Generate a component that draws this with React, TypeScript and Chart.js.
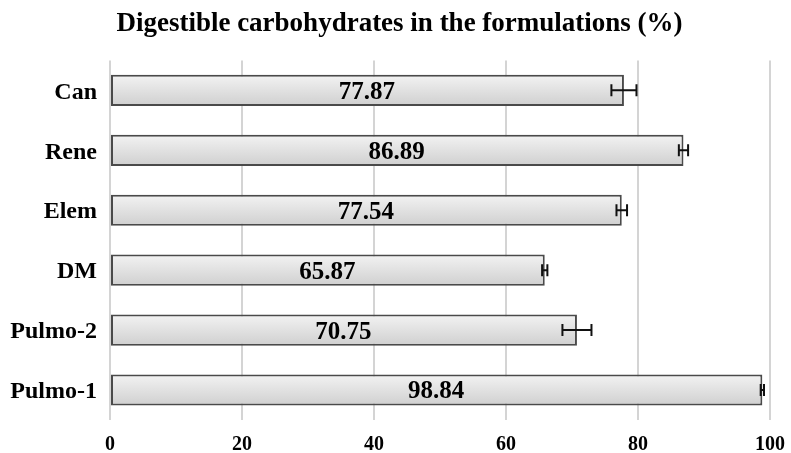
import React, { useEffect, useRef } from "react";
import { Chart, registerables } from "chart.js";

Chart.register(...registerables);

const categories = ["Can", "Rene", "Elem", "DM", "Pulmo-2", "Pulmo-1"];
const values = [77.87, 86.89, 77.54, 65.87, 70.75, 98.84];
const errors = [1.9, 0.7, 0.8, 0.4, 2.2, 0.25];
const xTicks = [0, 20, 40, 60, 80, 100];
const titleText = "Digestible carbohydrates in the formulations (%)";

const FONT = "'Liberation Serif', 'Times New Roman', serif";

const overlayPlugin = {
  id: "overlay",
  afterDatasetsDraw(chart: any) {
    const ctx = chart.ctx;
    const meta = chart.getDatasetMeta(0);
    const xs = chart.scales.x;
    ctx.save();
    meta.data.forEach((bar: any, i: number) => {
      const y = bar.y;
      const v = values[i];
      const e = errors[i];
      const x1 = xs.getPixelForValue(v - e);
      const x2 = xs.getPixelForValue(v + e);
      ctx.strokeStyle = "#111";
      ctx.lineWidth = 2;
      ctx.beginPath();
      ctx.moveTo(x1, y);
      ctx.lineTo(x2, y);
      ctx.moveTo(x1, y - 6);
      ctx.lineTo(x1, y + 6);
      ctx.moveTo(x2, y - 6);
      ctx.lineTo(x2, y + 6);
      ctx.stroke();
      const x0 = xs.getPixelForValue(0);
      const xe = xs.getPixelForValue(v);
      ctx.fillStyle = "#000";
      ctx.font = `bold 25px ${FONT}`;
      ctx.textAlign = "center";
      ctx.textBaseline = "middle";
      ctx.fillText(v.toFixed(2), (x0 + xe) / 2, y + 2);
    });
    ctx.restore();
  },
};

export default function App() {
  const ref = useRef<HTMLCanvasElement | null>(null);
  useEffect(() => {
    document.body.style.margin = "0";
    const canvas = ref.current!;
    const chart = new Chart(canvas, {
      type: "bar",
      data: {
        labels: categories,
        datasets: [
          {
            data: values,
            backgroundColor: (c: any) => {
              const ch = c.chart;
              const ys = ch.scales && ch.scales.y;
              if (!ch.chartArea || !ys || c.dataIndex === undefined) return "#e2e2e2";
              const yc = ys.getPixelForValue(c.dataIndex);
              if (!Number.isFinite(yc)) return "#e2e2e2";
              const h = 15;
              const g = ch.ctx.createLinearGradient(0, yc - h, 0, yc + h);
              g.addColorStop(0, "#f2f2f2");
              g.addColorStop(1, "#d0d0d0");
              return g;
            },
            borderColor: "#4a4a4a",
            borderWidth: 2,
            borderSkipped: false,
            barPercentage: 0.52,
            categoryPercentage: 1,
          },
        ],
      },
      options: {
        indexAxis: "y",
        animation: false,
        responsive: true,
        maintainAspectRatio: false,
        layout: { padding: { left: 8, right: 0, top: 8, bottom: 0 } },
        plugins: {
          legend: { display: false },
          tooltip: { enabled: false },
          title: {
            display: true,
            text: titleText,
            color: "#000",
            font: { family: FONT, size: 27, weight: "bold" },
            padding: { top: 0, bottom: 20 },
          },
        },
        scales: {
          x: {
            min: 0,
            max: 100,
            afterBuildTicks: (s: any) => {
              s.ticks = xTicks.map((v) => ({ value: v }));
            },
            afterFit: (s: any) => {
              s.height = 33;
              s.paddingRight = 21;
              s.paddingLeft = 0;
            },
            grid: { color: "#d4d4d4", lineWidth: 2, drawTicks: false },
            border: { display: false },
            ticks: {
              color: "#000",
              font: { family: FONT, size: 20, weight: "bold" },
              padding: 13,
            },
          },
          y: {
            grid: { display: false, drawTicks: false },
            border: { display: false },
            afterFit: (s: any) => {
              s.width = 102;
            },
            ticks: {
              color: "#000",
              font: { family: FONT, size: 24, weight: "bold" },
              padding: 13,
              labelOffset: 2,
            },
          },
        },
      },
      plugins: [overlayPlugin],
    } as any);
    return () => chart.destroy();
  }, []);
  return (
    <div style={{ width: 791, height: 453, position: "relative" }}>
      <canvas ref={ref} />
    </div>
  );
}
